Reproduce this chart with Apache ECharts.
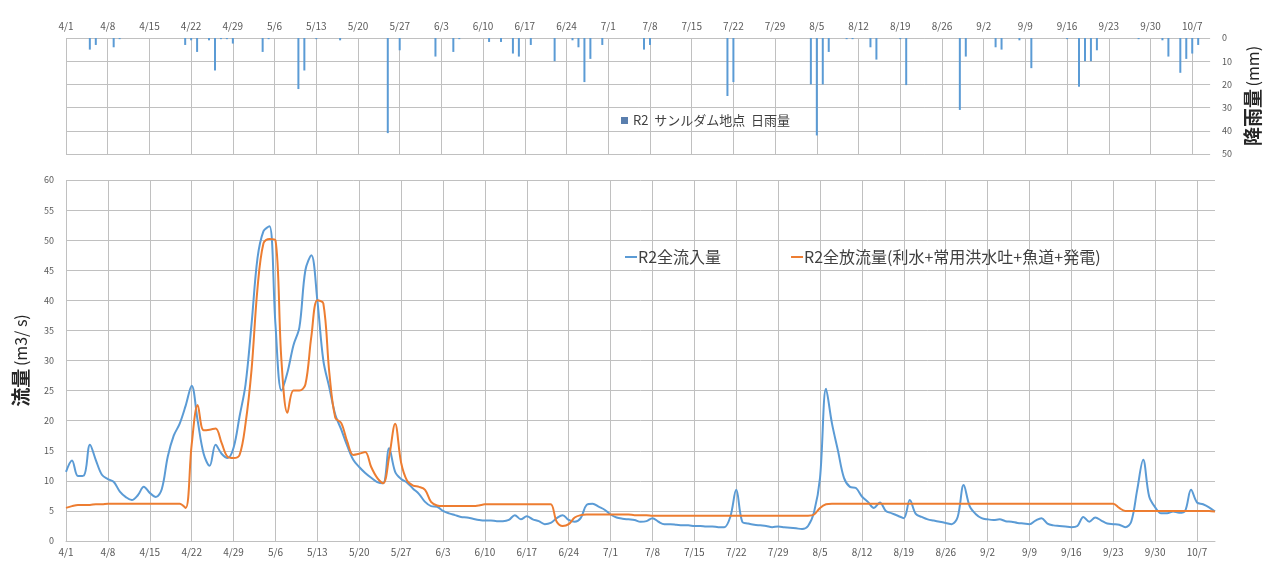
<!DOCTYPE html>
<html>
<head>
<meta charset="utf-8">
<script src="https://cdn.jsdelivr.net/npm/echarts@6/dist/echarts.min.js"></script>
<style>
  html, body { margin: 0; padding: 0; background: #ffffff; }
  #chart { width: 1270px; height: 562px; }
</style>
</head>
<body>
<div id="chart"></div>
<script>
// Daily series from 4/1 to 10/10
const startMonth = 4;
const dayCount = 193;

// R2 inflow (m3/s)
const inflow = [
  11.5, 13.4, 10.8, 10.9, 16.0, 13.4, 11.0, 10.3, 9.8, 8.2,
  7.3, 6.8, 7.6, 9.0, 8.0, 7.3, 8.6, 14.0, 17.5, 19.5,
  22.5, 25.8, 20.0, 14.5, 12.5, 16.0, 14.5, 13.8, 15.5, 20.7,
  26.0, 36.0, 47.0, 51.5, 52.3, 36.0, 25.0, 28.0, 32.5, 35.5,
  45.0, 47.5, 40.0, 30.0, 25.5, 21.0, 18.5, 15.8, 13.5, 12.3,
  11.3, 10.5, 9.8, 9.6, 15.4, 11.5, 10.3, 9.7, 8.7, 7.8,
  6.5, 5.8, 5.7, 5.0, 4.6, 4.3, 4.0, 3.9, 3.7, 3.5,
  3.4, 3.4, 3.3, 3.3, 3.5, 4.3, 3.6, 4.1, 3.6, 3.3,
  2.8, 3.0, 3.8, 4.3, 3.5, 3.2, 3.8, 6.0, 6.2, 5.7,
  5.2, 4.4, 3.9, 3.7, 3.6, 3.5, 3.2, 3.3, 3.8, 3.2,
  2.8, 2.8, 2.7, 2.6, 2.6, 2.5, 2.5, 2.4, 2.4, 2.3,
  2.3, 4.0, 8.5, 3.2, 2.9, 2.7, 2.6, 2.5, 2.3, 2.4,
  2.3, 2.2, 2.1, 2.0, 2.5, 4.8, 10.5, 25.3, 19.5, 15.0,
  10.5, 9.0, 8.8, 7.4, 6.5, 5.5, 6.4, 5.0, 4.6, 4.2,
  3.8, 6.8, 4.5, 4.0, 3.6, 3.4, 3.2, 3.0, 2.8, 4.0,
  9.3, 5.8, 4.5, 3.8, 3.6, 3.5, 3.6, 3.3, 3.2, 3.0,
  2.9, 2.8, 3.4, 3.8, 2.9, 2.6, 2.5, 2.4, 2.3, 2.5,
  4.0, 3.2, 3.9, 3.4, 2.9, 2.8, 2.7, 2.3, 3.2, 8.5,
  13.5, 7.4, 5.6, 4.6, 4.6, 4.9, 4.7, 5.0, 8.5, 6.4,
  6.1, 5.6, 4.9
];

// R2 total outflow (m3/s)
const outflow = [
  5.5, 5.8, 6.0, 6.0, 6.0, 6.1, 6.1, 6.2, 6.2, 6.2,
  6.2, 6.2, 6.2, 6.2, 6.2, 6.2, 6.2, 6.2, 6.2, 6.2,
  5.5, 16.0, 22.6, 18.4, 18.5, 18.7, 16.3, 14.0, 13.8, 14.3,
  19.5, 28.4, 42.0, 49.5, 50.2, 50.0, 30.0, 21.3, 25.0, 25.0,
  26.0, 34.0, 40.0, 39.5, 28.0, 20.5, 19.6, 16.5, 14.3, 14.5,
  14.8, 12.3, 10.5, 9.6, 14.0, 19.5, 13.0, 10.0, 9.2, 9.0,
  8.5, 6.5, 5.9, 5.8, 5.8, 5.8, 5.8, 5.8, 5.8, 5.9,
  6.1, 6.1, 6.1, 6.1, 6.1, 6.1, 6.1, 6.1, 6.1, 6.1,
  6.1, 6.1, 3.2, 2.5, 2.8, 3.9, 4.3, 4.4, 4.4, 4.4,
  4.4, 4.4, 4.4, 4.4, 4.4, 4.3, 4.3, 4.3, 4.2, 4.2,
  4.2, 4.2, 4.2, 4.2, 4.2, 4.2, 4.2, 4.2, 4.2, 4.2,
  4.2, 4.2, 4.2, 4.2, 4.2, 4.2, 4.2, 4.2, 4.2, 4.2,
  4.2, 4.2, 4.2, 4.2, 4.2, 4.4, 5.5, 6.1, 6.2, 6.2,
  6.2, 6.2, 6.2, 6.2, 6.2, 6.2, 6.2, 6.2, 6.2, 6.2,
  6.2, 6.2, 6.2, 6.2, 6.2, 6.2, 6.2, 6.2, 6.2, 6.2,
  6.2, 6.2, 6.2, 6.2, 6.2, 6.2, 6.2, 6.2, 6.2, 6.2,
  6.2, 6.2, 6.2, 6.2, 6.2, 6.2, 6.2, 6.2, 6.2, 6.2,
  6.2, 6.2, 6.2, 6.2, 6.2, 6.2, 5.5, 5.0, 5.0, 5.0,
  5.0, 5.0, 5.0, 5.0, 5.0, 5.0, 5.0, 5.0, 5.0, 5.0,
  5.0, 5.0, 4.9
];

// Daily rainfall at the dam site (mm), by day index
const rainDays = [4, 5, 8, 9, 20, 21, 22, 24, 25, 26, 27, 28, 33, 34, 39, 40, 42, 46, 54, 56,
  62, 65, 66, 71, 73, 75, 76, 78, 82, 85, 86, 87, 88, 90, 97, 98, 111, 112,
  125, 126, 127, 128, 131, 132, 135, 136, 140, 141, 150, 151, 156, 157, 160, 162,
  168, 170, 171, 172, 173, 180, 184, 185, 187, 188, 189, 190];
const rainMm = [5, 3, 4, 0.5, 3, 1, 6, 1, 14, 0.5, 0.5, 2.4, 6, 0.5, 22, 14, 0.5, 1, 41, 5.3,
  8, 6, 0.5, 1.7, 1.7, 6.7, 8, 3, 10, 1, 4, 19, 9, 3, 5, 3, 25, 19,
  20, 42, 20, 6, 0.5, 0.5, 4, 9.3, 0.5, 20.3, 31, 8, 4, 5, 1, 13,
  0.5, 21, 10, 10, 5.3, 0.5, 1, 8, 15, 9, 6.7, 3];

// Date labels M/D
const monthLen = {4: 30, 5: 31, 6: 30, 7: 31, 8: 31, 9: 30, 10: 31};
const dates = [];
{
  let m = startMonth, d = 1;
  for (let i = 0; i < dayCount; i++) {
    dates.push(m + '/' + d);
    d++;
    if (d > monthLen[m]) { d = 1; m++; }
  }
}
const rain = new Array(dayCount).fill(0);
rainDays.forEach((day, i) => { rain[day] = rainMm[i]; });

const FONT = '"Noto Sans CJK JP", "Noto Sans", sans-serif';
const gridColor = '#c0c0c0';
const labelColor = '#595959';

const chart = echarts.init(document.getElementById('chart'));
chart.setOption({
  animation: false,
  backgroundColor: '#ffffff',
  textStyle: { fontFamily: FONT },
  grid: [
    { left: 66, right: 55, top: 38, height: 116 },
    { left: 66, right: 55, top: 180, bottom: 21 }
  ],
  legend: [
    {
      data: ['R2  サンルダム地点  日雨量'],
      left: 616, top: 109,
      icon: 'rect', itemWidth: 7, itemHeight: 7, itemGap: 4,
      itemStyle: { color: '#5a7fae' },
      textStyle: { fontFamily: FONT, fontSize: 13, color: '#404040' }
    },
    {
      data: ['R2全流入量', 'R2全放流量(利水+常用洪水吐+魚道+発電)'],
      left: 620, top: 244,
      icon: 'rect', itemWidth: 12, itemHeight: 2, itemGap: 70,
      textStyle: { fontFamily: FONT, fontSize: 16, color: '#404040', padding: [0, 0, 0, -4] }
    }
  ],
  xAxis: [
    {
      type: 'category', gridIndex: 0, data: dates, position: 'top',
      boundaryGap: false,
      axisLine: { show: false }, axisTick: { show: false },
      axisLabel: { interval: 6, fontSize: 10, color: labelColor, margin: 7 },
      splitLine: { show: true, interval: 6, lineStyle: { color: gridColor, width: 1 } }
    },
    {
      type: 'category', gridIndex: 1, data: dates,
      boundaryGap: false,
      axisLine: { show: true, lineStyle: { color: gridColor } }, axisTick: { show: false },
      axisLabel: { interval: 6, fontSize: 10, color: labelColor, margin: 6 },
      splitLine: { show: true, interval: 6, lineStyle: { color: gridColor, width: 1 } }
    }
  ],
  yAxis: [
    {
      type: 'value', gridIndex: 0, position: 'right', inverse: true,
      min: 0, max: 50, interval: 10,
      axisLine: { show: false }, axisTick: { show: false },
      axisLabel: { fontSize: 9, color: labelColor, margin: 12 },
      splitLine: { lineStyle: { color: gridColor, width: 1 } },
      name: '{b|降雨量} {n|(mm)}', nameLocation: 'middle', nameGap: 30, nameRotate: 90,
      nameTextStyle: {
        rich: {
          b: { fontFamily: FONT, fontSize: 19, fontWeight: 'bold', color: '#262626' },
          n: { fontFamily: FONT, fontSize: 16, color: '#262626' }
        }
      }
    },
    {
      type: 'value', gridIndex: 1,
      min: 0, max: 60, interval: 5,
      axisLine: { show: false }, axisTick: { show: false },
      axisLabel: { fontSize: 9, color: labelColor, margin: 12 },
      splitLine: { lineStyle: { color: gridColor, width: 1 } },
      name: '{b|流量} {n|(m3/ s)}', nameLocation: 'middle', nameGap: 36, nameRotate: 90,
      nameTextStyle: {
        rich: {
          b: { fontFamily: FONT, fontSize: 19, fontWeight: 'bold', color: '#262626' },
          n: { fontFamily: FONT, fontSize: 16, color: '#262626' }
        }
      }
    }
  ],
  series: [
    {
      name: 'R2  サンルダム地点  日雨量', type: 'bar',
      xAxisIndex: 0, yAxisIndex: 0, data: rain,
      barWidth: 2,
      itemStyle: { color: '#5b9bd5' }
    },
    {
      name: 'R2全流入量', type: 'line',
      xAxisIndex: 1, yAxisIndex: 1, data: inflow,
      smooth: 0.35, symbol: 'none',
      lineStyle: { color: '#5b9bd5', width: 2 },
      itemStyle: { color: '#5b9bd5' }
    },
    {
      name: 'R2全放流量(利水+常用洪水吐+魚道+発電)', type: 'line',
      xAxisIndex: 1, yAxisIndex: 1, data: outflow,
      smooth: 0.35, symbol: 'none',
      lineStyle: { color: '#ed7d31', width: 2 },
      itemStyle: { color: '#ed7d31' }
    }
  ]
});
</script>
</body>
</html>
